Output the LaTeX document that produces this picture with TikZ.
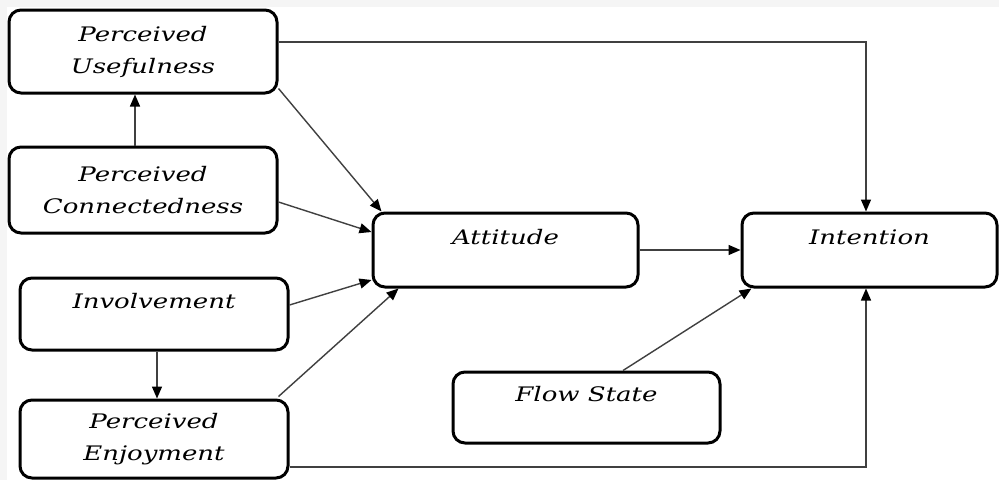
\documentclass[tikz,border=0pt]{standalone}
\usepackage{fontspec}
\newfontfamily\boxfont{DejaVu Serif}[FakeStretch=1.3]
\usetikzlibrary{arrows.meta,calc}
\begin{document}
\begin{tikzpicture}[x=1pt,y=-1pt,
  box/.style={draw=black, line width=3pt, rounded corners=12pt, fill=white,
    inner sep=0pt, align=center,
    font=\boxfont\itshape\fontsize{20}{32}\selectfont},
  onebox/.style={box, text height=14pt, text depth=26pt},
  link/.style={draw=black!75, line width=1.4pt,
    -{Triangle[length=12pt,width=10pt,color=black]}}]
\useasboundingbox (0,0) rectangle (999,480);
\fill[white] (0,0) rectangle (999,480);
% faint page background bands
\fill[black!4] (0,0) rectangle (999,7);
\fill[black!4] (0,7) rectangle (7,480);

% constructs
\node[box, minimum width=268pt, minimum height=83pt] (pu) at (143,51.5) {Perceived\\Usefulness};
\node[box, minimum width=268pt, minimum height=86pt] (pc) at (143,190) {Perceived\\Connectedness};
\node[onebox, minimum width=268pt, minimum height=72pt] (inv) at (154,314) {Involvement};
\node[box, minimum width=268pt, minimum height=78pt] (pe) at (154,439) {Perceived\\Enjoyment};
\node[onebox, minimum width=265pt, minimum height=74pt] (att) at (505.5,250) {Attitude};
\node[onebox, minimum width=255pt, minimum height=74pt] (int) at (869.5,250) {Intention};
\node[onebox, minimum width=267pt, minimum height=71pt] (flow) at (586.5,407.5) {Flow State};

% helper coordinates for routed connectors
\coordinate (xa) at (135,0);
\coordinate (xi) at (866,0);

% connectors
\draw[link] (pc.north -| xa) -- (pu.south -| xa);
\draw[link] (inv.south -| 157,0) -- (pe.north -| 157,0);
\draw[link] ($(pu.south east)+(0,-6)$) -- ($(att.north west)+(10,0)$);
\draw[link] ($(pc.east)+(0,12)$) -- ($(att.west)+(0,-18)$);
\draw[link] ($(inv.east)+(0,-9)$) -- ($(att.west)+(0,30)$);
\draw[link] ($(pe.north east)+(-11,-2)$) -- ($(att.south west)+(27,0)$);
\draw[link] ($(pu.east)+(0,-9.5)$) -| (int.north -| xi);
\draw[link] (att.east) -- (int.west);
\draw[link] ($(flow.north)+(36.5,0)$) -- ($(int.south west)+(11,0)$);
\draw[link] ($(pe.east)+(0,28)$) -| (int.south -| xi);
\end{tikzpicture}
\end{document}
